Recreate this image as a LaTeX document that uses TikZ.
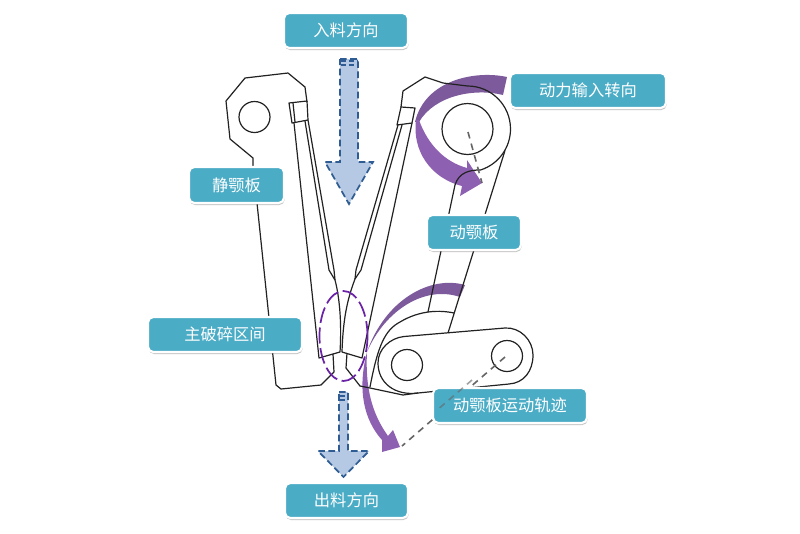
\documentclass[tikz,border=0pt]{standalone}
\usepackage{fontspec}
\setmainfont{Noto Sans CJK SC}
\usetikzlibrary{shadows}
\definecolor{labfill}{HTML}{4BACC6}
\definecolor{inkline}{HTML}{222222}
\definecolor{arrfill}{HTML}{B6C9E4}
\definecolor{arrdash}{HTML}{2F5D93}
\definecolor{purpdark}{HTML}{7D5A9B}
\definecolor{purplite}{HTML}{8E60B2}
\definecolor{ringcol}{HTML}{6A22A6}
\tikzset{
  tag/.style={draw=white,line width=1.6pt,fill=labfill,rounded corners=4pt,text=white,
    font=\fontsize{12.2pt}{14pt}\selectfont,inner sep=0pt,
    drop shadow={shadow xshift=0.5pt,shadow yshift=-1.5pt,opacity=.4,fill=black!55}},
  mech/.style={draw=inkline,line width=0.9pt,line join=round},
  flowarrow/.style={draw=arrdash,fill=arrfill,line width=1.3pt,dash pattern=on 5pt off 2.6pt},
  flowhatch/.style={draw=arrdash,line width=1.4pt,dash pattern=on 4pt off 2pt},
  guide/.style={draw=black!60,line width=1.2pt,dash pattern=on 5pt off 4pt},
  ring/.style={draw=ringcol,line width=1.3pt,dash pattern=on 12pt off 3.5pt},
}
\begin{document}
\begin{tikzpicture}[x=0.75pt,y=-0.75pt]
\useasboundingbox[fill=white] (0,0) rectangle (800,533);
% purple sweep arrows
\fill[purpdark] (507,77) .. controls (475,70) and (425,80) .. (415,122) -- (419,122)
  .. controls (435,95) and (475,88) .. (503,95) -- cycle;
\fill[purplite] (416,120) .. controls (412,150) and (430,178) .. (462,186) -- (460,196) -- (482,183)
  -- (467,160) -- (467,168) .. controls (445,162) and (428,145) .. (419,120) -- cycle;
\fill[purpdark] (465,285) .. controls (430,275) and (385,300) .. (367,352)
  .. controls (385,310) and (425,285) .. (460,297) -- cycle;
\fill[purplite] (367,352) .. controls (357,390) and (364,420) .. (382,440) -- (382,452) -- (400,447)
  -- (393,430) -- (388,436) .. controls (373,415) and (365,390) .. (367,352) -- cycle;
% fixed jaw
\draw[mech] (307,102) -- (305,87) -- (288,73) -- (245,78) -- (226,101) -- (230,139) -- (253,158)
  -- (253,168) -- (257,203) -- (276,385) -- (281,389) -- (321,385) -- (334,372) -- (333,354)
  -- (319,358) -- (294,123);
\draw[mech] (254.5,117) circle[radius=15.5];
\draw[mech] (289,103) -- (307,101) -- (308,120) -- (292,123) -- cycle;
\draw[mech] (293,103) -- (295,122);
\draw[mech] (305,121) -- (329,270) -- (335,280);
\draw[mech] (308,120) -- (334,270) -- (335,280) .. controls (339,295) and (342,320) .. (340,352) -- (333,354);
% moving jaw
\draw[mech] (401,107) -- (403,91) -- (425,77) -- (443,83) -- (467.5,86)
  arc[start angle=-90,end angle=72,radius=43]
  .. controls (470,170) and (459,172) .. (455,185) -- (428,312);
\draw[mech] (505,150.5) -- (448,333);
\draw[mech] (467.5,129) circle[radius=25.5];
\draw[mech] (397,125) -- (412,123) -- (415,108) -- (401,107) -- cycle;
\draw[mech] (398,125) -- (356,270) -- (355,279);
\draw[mech] (402,125) -- (361,270) -- (355,279) .. controls (347,300) and (343,320) .. (342,352)
  -- (362,358) -- (412,123);
\draw[mech] (347,353) -- (346,368) -- (360,386) -- (370,388) -- (403,395) -- (418,393);
\draw[mech] (454,313) .. controls (440,310) and (420,310) .. (400,322)
  .. controls (385,330) and (378,345) .. (370,387);
% toggle link
\draw[mech] (404,336.5) -- (505,328) .. controls (520,327) and (533,340) .. (533,355)
  .. controls (533,371) and (524,383) .. (509,384) -- (418,393)
  .. controls (395,396) and (378,383) .. (378,363) .. controls (378,349) and (390,338) .. (404,336.5) -- cycle;
\draw[mech] (407,365) circle[radius=15.5];
\draw[mech] (507,356) circle[radius=15.5];
% crushing zone
\draw[ring] (343.5,336) ellipse[x radius=24,y radius=45];
% guides
\draw[guide] (468,132) -- (482,183);
\draw[guide] (505,357) -- (402,446);
% flow arrows
\draw[flowarrow] (340,59) -- (358,59) -- (358,162) -- (373,162) -- (349,204) -- (325,162) -- (340,162) -- cycle;
\draw[flowhatch] (340.5,65) -- (357.5,65);
\draw[flowhatch] (340.5,61) -- (357.5,61);
\draw[flowarrow] (339,392) -- (348,392) -- (348,451) -- (369,451) -- (343.5,477) -- (318,451) -- (339,451) -- cycle;
\draw[flowhatch] (339.5,396) -- (347.5,396);
\draw[flowhatch] (339.5,400) -- (347.5,400);
% labels
\node[tag,minimum width=124*0.75pt,minimum height=35*0.75pt] (inlet) at (346,30.5) {入料方向};
\node[tag,minimum width=156*0.75pt,minimum height=35*0.75pt] (drive) at (588,90.5) {动力输入转向};
\node[tag,minimum width=95*0.75pt,minimum height=36*0.75pt] (fixedjaw) at (236.5,185) {静颚板};
\node[tag,minimum width=94*0.75pt,minimum height=35*0.75pt] (movingjaw) at (474,232.5) {动颚板};
\node[tag,minimum width=154*0.75pt,minimum height=35*0.75pt] (zone) at (225,334.5) {主破碎区间};
\node[tag,minimum width=154*0.75pt,minimum height=35*0.75pt] (path) at (510,405.5) {动颚板运动轨迹};
\node[tag,minimum width=123*0.75pt,minimum height=35*0.75pt] (outlet) at (346.5,500.5) {出料方向};
% the guide shows faintly through the label
\draw[guide,opacity=.6] (472,380) -- (436,411);
\end{tikzpicture}
\end{document}
